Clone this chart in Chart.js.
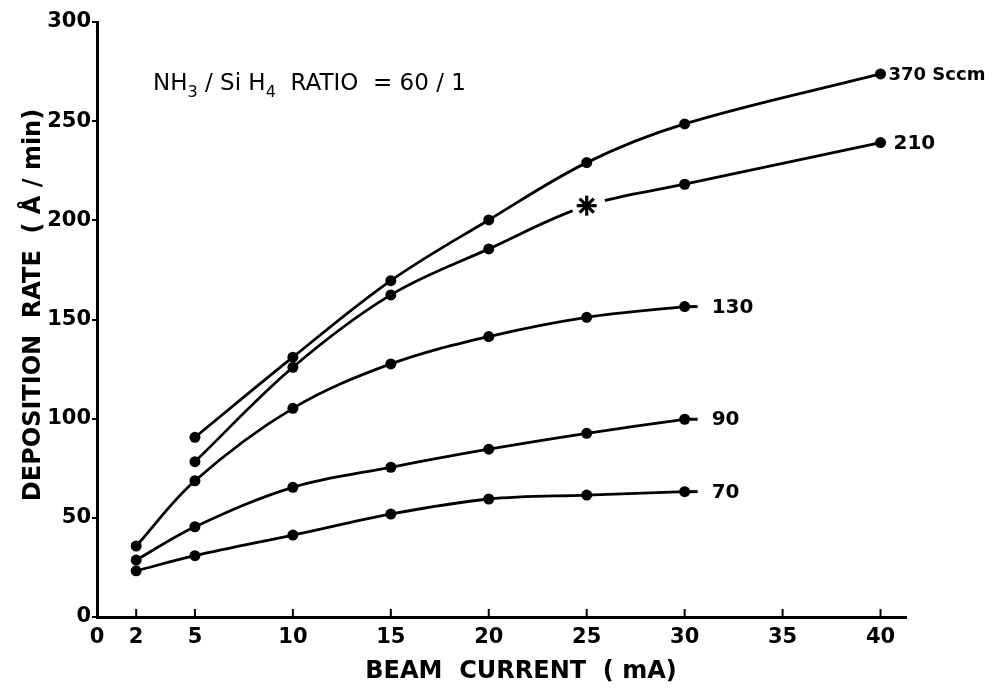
<!DOCTYPE html>
<html>
<head>
<meta charset="utf-8">
<title>Deposition rate vs beam current</title>
<script src="https://cdn.jsdelivr.net/npm/chart.js@4.4.1/dist/chart.umd.min.js"></script>
<style>
  html, body { margin: 0; padding: 0; background: #fff; }
  canvas { display: block; }
</style>
</head>
<body>
<canvas id="rateChart" width="999" height="688"></canvas>
<script>
// beam current (mA) and axis ticks
const xTicks = [0, 2, 5, 10, 15, 20, 25, 30, 35, 40];
const yTicks = [0, 50, 100, 150, 200, 250, 300];

// deposition rate (Å/min), one list per total gas flow
const highX = [5, 10, 15, 20, 25, 30, 40];
const flow370 = [90.6, 131, 169.6, 200.2, 229.1, 248.6, 273.8];
const flow210 = [78.3, 125.9, 162.4, 185.6, 207.4, 218.2, 239.2];
const lowX = [2, 5, 10, 15, 20, 25, 30];
const flow130 = [35.8, 68.7, 105.2, 127.6, 141.4, 151.1, 156.5];
const flow90 = [28.7, 45.5, 65.4, 75.5, 84.6, 92.6, 99.7];
const flow70 = [23.3, 30.9, 41.3, 51.9, 59.5, 61.5, 63.2];
const seriesLabels = ['370 Sccm', '210', '130', '90', '70'];
const starIndex = 4; // the 210 point at 25 mA is drawn as an asterisk

const FONT = '"DejaVu Sans", sans-serif';

function pts(xs, ys) {
    return xs.map((x, i) => ({ x: x, y: ys[i] }));
}

function lineSet(label, data, radius) {
    return {
        label: label,
        data: data,
        borderColor: '#000',
        backgroundColor: '#000',
        borderWidth: 2.8,
        pointRadius: radius || 5.5,
        pointHoverRadius: 5.5,
        pointBorderWidth: 0,
        tension: 0.35,
        fill: false
    };
}

const decorations = {
    id: 'decorations',
    afterDatasetsDraw(chart) {
        const ctx = chart.ctx;
        const xs = chart.scales.x;
        const ys = chart.scales.y;
        ctx.save();

        // asterisk on the 210 curve, with a break in the line around it
        const star = chart.getDatasetMeta(1).data[starIndex];
        ctx.fillStyle = '#fff';
        ctx.beginPath();
        ctx.arc(star.x + 2, star.y, 17, 0, Math.PI * 2);
        ctx.fill();
        ctx.strokeStyle = '#000';
        ctx.lineWidth = 3.2;
        ctx.lineCap = 'butt';
        for (let k = 0; k < 4; k++) {
            const a = k * Math.PI / 4;
            ctx.beginPath();
            ctx.moveTo(star.x - 10 * Math.cos(a), star.y - 10 * Math.sin(a));
            ctx.lineTo(star.x + 10 * Math.cos(a), star.y + 10 * Math.sin(a));
            ctx.stroke();
        }

        // short stubs after the last point of the low-flow curves
        ctx.lineWidth = 3;
        [2, 3, 4].forEach(i => {
            const pts = chart.getDatasetMeta(i).data;
            const p = pts[pts.length - 1];
            ctx.beginPath();
            ctx.moveTo(p.x, p.y);
            ctx.lineTo(p.x + 13, p.y);
            ctx.stroke();
        });

        // series labels
        ctx.fillStyle = '#000';
        ctx.textBaseline = 'middle';
        ctx.textAlign = 'left';
        chart.data.datasets.forEach((ds, i) => {
            const pts = chart.getDatasetMeta(i).data;
            const p = pts[pts.length - 1];
            const off = i === 0 ? 8 : (i === 1 ? 13 : 27);
            ctx.font = 'bold ' + (i === 0 ? 18 : 20) + 'px ' + FONT;
            ctx.fillText(seriesLabels[i], p.x + off, p.y + 1);
        });

        // x ticks point up into the plot
        ctx.lineWidth = 2;
        xTicks.forEach(v => {
            const px = xs.getPixelForValue(v);
            if (v === 0) return;
            ctx.beginPath();
            ctx.moveTo(px, ys.bottom);
            ctx.lineTo(px, ys.bottom - 8);
            ctx.stroke();
        });

        // ratio note with subscripts
        let x = 153;
        const base = 90;
        const part = (txt, size, dy) => {
            ctx.font = size + 'px ' + FONT;
            ctx.fillText(txt, x, base + dy);
            x += ctx.measureText(txt).width;
        };
        ctx.textBaseline = 'alphabetic';
        part('NH', 23, 0);
        part('3', 16, 7);
        part(' / Si H', 23, 0);
        part('4', 16, 7);
        part('  RATIO  = 60 / 1', 23, 0);

        // axis titles
        ctx.font = 'bold 24px ' + FONT;
        ctx.textAlign = 'center';
        ctx.textBaseline = 'middle';
        ctx.fillText('BEAM  CURRENT  ( mA)', 521, 672);
        ctx.translate(34, 305);
        ctx.rotate(-Math.PI / 2);
        ctx.fillText('DEPOSITION  RATE  ( Å / min)', 0, 0);
        ctx.restore();
    }
};

const ctx = document.getElementById('rateChart');
new Chart(ctx, {
    type: 'line',
    data: {
        datasets: [
            lineSet(seriesLabels[0], pts(highX, flow370)),
            lineSet(seriesLabels[1], pts(highX, flow210), highX.map((x, i) => i === starIndex ? 0 : 5.5)),
            lineSet(seriesLabels[2], pts(lowX, flow130)),
            lineSet(seriesLabels[3], pts(lowX, flow90)),
            lineSet(seriesLabels[4], pts(lowX, flow70))
        ]
    },
    options: {
        responsive: false,
        animation: false,
        layout: { padding: { top: 22, right: 93, left: 0, bottom: 0 } },
        plugins: {
            legend: { display: false },
            tooltip: { enabled: false }
        },
        scales: {
            x: {
                type: 'linear',
                min: 0,
                max: 41.3,
                afterBuildTicks: s => { s.ticks = xTicks.map(v => ({ value: v })); },
                afterFit: s => { s.height = 71; },
                border: { display: true, color: '#000', width: 3 },
                grid: { display: true, drawOnChartArea: false, drawTicks: false },
                ticks: {
                    color: '#000',
                    padding: 8,
                    maxRotation: 0,
                    autoSkip: false,
                    font: { family: FONT, size: 21, weight: 'bold' }
                }
            },
            y: {
                type: 'linear',
                min: 0,
                max: 300,
                afterBuildTicks: s => { s.ticks = yTicks.map(v => ({ value: v })); },
                afterFit: s => { s.width = 97; },
                border: { display: true, color: '#000', width: 3 },
                grid: { display: true, drawOnChartArea: false, drawTicks: true, tickLength: 5, color: '#000', lineWidth: 2 },
                ticks: {
                    color: '#000',
                    padding: 1,
                    font: { family: FONT, size: 21, weight: 'bold' }
                }
            }
        }
    },
    plugins: [decorations]
});
</script>
</body>
</html>
